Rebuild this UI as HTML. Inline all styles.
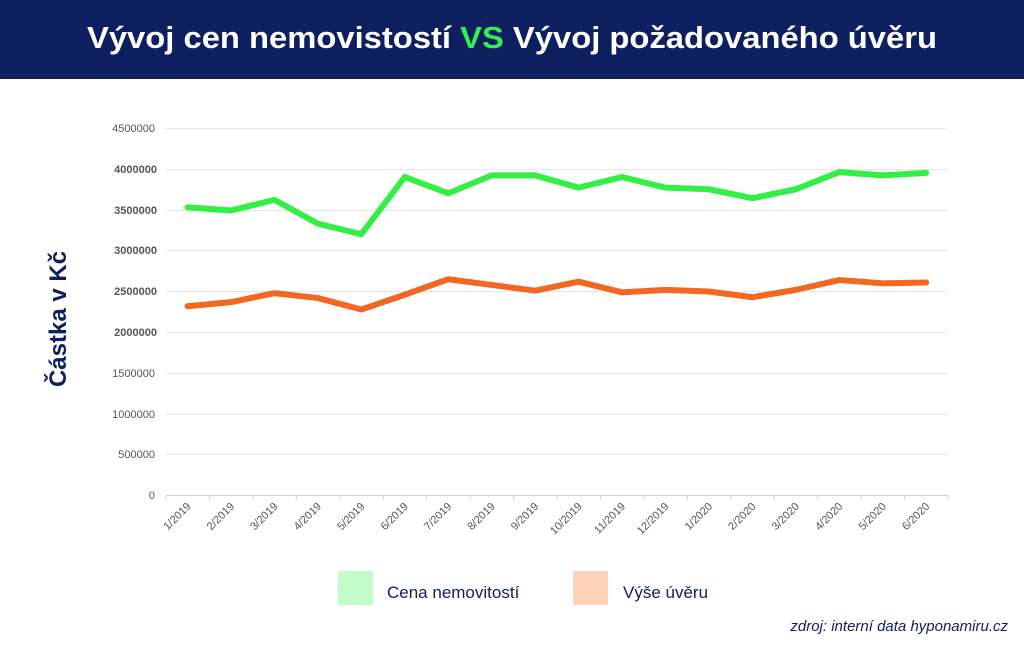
<!DOCTYPE html>
<html><head><meta charset="utf-8"><style>
html,body{margin:0;padding:0;background:#fff;}
svg{display:block;font-family:"Liberation Sans",sans-serif;}
</style></head><body>
<svg width="1024" height="652" viewBox="0 0 1024 652" xmlns="http://www.w3.org/2000/svg">
<rect x="0" y="0" width="1024" height="79" fill="#0d1f5e"/>
<text x="512" y="48" text-anchor="middle" font-size="31" font-weight="bold" fill="#fff" textLength="850" lengthAdjust="spacingAndGlyphs">Vývoj cen nemovistostí <tspan fill="#33ee55">VS</tspan> Vývoj požadovaného úvěru</text>
<g stroke="#e6e6e6" stroke-width="1">
<line x1="166" x2="948" y1="128.5" y2="128.5"/>
<line x1="166" x2="948" y1="169.5" y2="169.5"/>
<line x1="166" x2="948" y1="210.5" y2="210.5"/>
<line x1="166" x2="948" y1="250.5" y2="250.5"/>
<line x1="166" x2="948" y1="291.5" y2="291.5"/>
<line x1="166" x2="948" y1="332.5" y2="332.5"/>
<line x1="166" x2="948" y1="373.5" y2="373.5"/>
<line x1="166" x2="948" y1="414.5" y2="414.5"/>
<line x1="166" x2="948" y1="454.5" y2="454.5"/>
<line x1="166" x2="948" y1="495.5" y2="495.5" stroke="#d0d0d0"/>
</g>
<g font-size="11" fill="#555" text-anchor="end">
<text x="155" y="132">4500000</text>
<text x="157" y="173" font-weight="bold">4000000</text>
<text x="157" y="214" font-weight="bold">3500000</text>
<text x="157" y="254" font-weight="bold">3000000</text>
<text x="157" y="295" font-weight="bold">2500000</text>
<text x="157" y="336" font-weight="bold">2000000</text>
<text x="155" y="377">1500000</text>
<text x="155" y="418">1000000</text>
<text x="155" y="458">500000</text>
<text x="155" y="499">0</text>
</g>
<g stroke="#d0d0d0" stroke-width="1" id="ticks"></g>
<g font-size="11" fill="#555" text-anchor="end" id="xl"></g>
<polyline fill="none" stroke="#33ee44" stroke-width="6" stroke-linejoin="round" stroke-linecap="round" id="g"/>
<polyline fill="none" stroke="#f26722" stroke-width="6" stroke-linejoin="round" stroke-linecap="round" id="o"/>
<text transform="translate(66,319) rotate(-90)" text-anchor="middle" font-size="24" font-weight="bold" fill="#0d1f5e">Částka v Kč</text>
<rect x="338" y="571" width="35" height="34" fill="#c4fcc9"/>
<text x="387" y="598" font-size="17" fill="#0d1f5e">Cena nemovitostí</text>
<rect x="573" y="571" width="35" height="34" fill="#fdd3b8"/>
<text x="623" y="598" font-size="17" fill="#0d1f5e">Výše úvěru</text>
<text x="1008" y="631" text-anchor="end" font-size="15" font-style="italic" fill="#0d1f5e">zdroj: interní data hyponamiru.cz</text>
</svg>
<script>
var lab=["1/2019","2/2019","3/2019","4/2019","5/2019","6/2019","7/2019","8/2019","9/2019","10/2019","11/2019","12/2019","1/2020","2/2020","3/2020","4/2020","5/2020","6/2020"];
var G=[3.53,3.49,3.62,3.33,3.20,3.90,3.70,3.92,3.92,3.77,3.90,3.77,3.75,3.64,3.75,3.96,3.92,3.95];
var O=[2.32,2.37,2.48,2.42,2.28,2.46,2.65,2.58,2.51,2.62,2.49,2.52,2.50,2.43,2.52,2.64,2.60,2.61];
var ns="http://www.w3.org/2000/svg",step=43.45,g=[],o=[];
var tk=document.getElementById("ticks"),xl=document.getElementById("xl");
for(var i=0;i<=18;i++){var l=document.createElementNS(ns,"line");var x=166+i*step;l.setAttribute("x1",x);l.setAttribute("x2",x);l.setAttribute("y1",496);l.setAttribute("y2",500);tk.appendChild(l);}
for(var i=0;i<18;i++){var x=187.5+i*step;
g.push(x+","+(496-G[i]*81.8));o.push(x+","+(496-O[i]*81.8));
var t=document.createElementNS(ns,"text");t.setAttribute("transform","translate("+(x+4)+",507) rotate(-45)");t.textContent=lab[i];xl.appendChild(t);}
document.getElementById("g").setAttribute("points",g.join(" "));
document.getElementById("o").setAttribute("points",o.join(" "));
</script>
</body></html>
